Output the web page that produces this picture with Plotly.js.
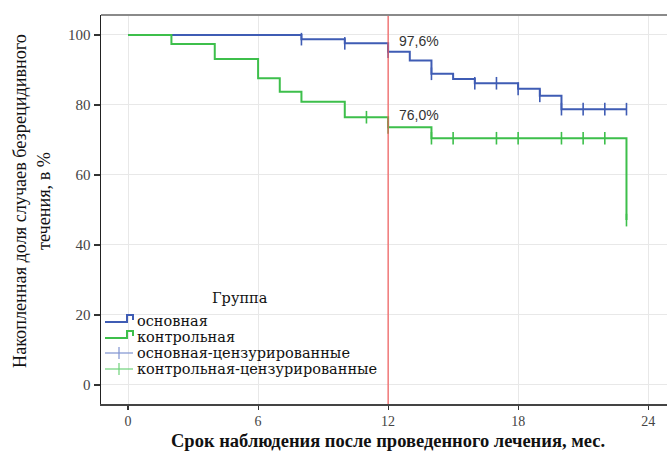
<!DOCTYPE html>
<html>
<head>
<meta charset="utf-8">
<script src="https://cdn.plot.ly/plotly-3.0.1.min.js"></script>
<style>html,body{margin:0;padding:0;background:#fff;}#chart{width:667px;height:452px;}</style>
</head>
<body>
<div id="chart"></div>
<script>
// Step curve: основная
var mainMonths = [0, 8, 10, 12, 13, 14, 15, 16, 18, 19, 20, 23];
var mainSurv   = [100, 98.8, 97.6, 95.2, 92.7, 88.9, 87.4, 86.2, 84.6, 82.6, 78.8, 78.8];
// Censored: основная
var mainCensMonths = [8, 10, 12, 14, 16, 17, 18, 19, 20, 21, 22, 23];
var mainCensSurv   = [98.8, 97.6, 95.2, 88.9, 86.2, 86.2, 84.6, 82.6, 78.8, 78.8, 78.8, 78.8];
// Step curve: контрольная
var ctrlMonths = [0, 2, 4, 6, 7, 8, 10, 12, 14, 23];
var ctrlSurv   = [100, 97.4, 93.1, 87.6, 83.8, 80.9, 76.5, 73.6, 70.5, 47.1];
// Censored: контрольная
var ctrlCensMonths = [11, 12, 14, 15, 17, 18, 20, 21, 22, 23];
var ctrlCensSurv   = [76.5, 73.6, 70.5, 70.5, 70.5, 70.5, 70.5, 70.5, 70.5, 47.1];
// Labels at 12 months
var markMonth = 12;
var markLabels = ["97,6%", "76,0%"];
var markLabelY = [98.2, 77.0];
var xTicks = [0, 6, 12, 18, 24];
var yTicks = [0, 20, 40, 60, 80, 100];
var groupNames = ["основная", "контрольная", "основная-цензурированные", "контрольная-цензурированные"];
var xTitle = 'Срок наблюдения после проведенного лечения, мес.';
var yTitle = 'Накопленная доля случаев безрецидивного<br>течения, в %';

var BLUE = '#3f5cb4', GREEN = '#3dbf4b', RED = '#f25a5a';
var W = 667, H = 452, L = 101, R = 0, T = 15, B = 48;
var pw = W - L - R, ph = H - T - B;
function px(x){ return (x - L) / pw; }
function py(y){ return (H - B - y) / ph; }

var traces = [
  {x: mainMonths, y: mainSurv, mode: 'lines', line: {shape: 'hv', color: BLUE, width: 2}, showlegend: false, hoverinfo: 'skip'},
  {x: ctrlMonths, y: ctrlSurv, mode: 'lines', line: {shape: 'hv', color: GREEN, width: 2}, showlegend: false, hoverinfo: 'skip'},
  {x: mainCensMonths, y: mainCensSurv, mode: 'markers', marker: {symbol: 'line-ns-open', size: 9, color: BLUE, line: {color: BLUE, width: 1.6}}, showlegend: false, hoverinfo: 'skip'},
  {x: ctrlCensMonths, y: ctrlCensSurv, mode: 'markers', marker: {symbol: 'line-ns-open', size: 9, color: GREEN, line: {color: GREEN, width: 1.6}}, showlegend: false, hoverinfo: 'skip'}
];

var serif = 'Liberation Serif, Times New Roman, serif';
var legFont = {family: 'DejaVu Serif, serif', size: 14.5, color: '#111'};

var annotations = [];
for (var i = 0; i < markLabels.length; i++) {
  annotations.push({x: markMonth + 0.4, y: markLabelY[i], xref: 'x', yref: 'y', text: markLabels[i], showarrow: false,
    xanchor: 'left', yanchor: 'middle', font: {family: 'Liberation Sans, Arial, sans-serif', size: 14, color: '#333'}});
}
annotations.push({x: px(240), y: py(298), xref: 'paper', yref: 'paper', text: 'Группа', showarrow: false,
  xanchor: 'center', yanchor: 'middle', font: legFont});
var legY = [321, 337, 353, 369];
for (var j = 0; j < groupNames.length; j++) {
  annotations.push({x: px(135), y: py(legY[j]), xref: 'paper', yref: 'paper', text: groupNames[j], showarrow: false,
    xanchor: 'left', yanchor: 'middle', font: legFont});
}
// axis titles
annotations.push({x: px(388), y: py(452), xref: 'paper', yref: 'paper', text: '<b>' + xTitle + '</b>', showarrow: false,
  xanchor: 'center', yanchor: 'bottom', borderpad: 0, font: {family: serif, size: 18.5, color: '#111'}});
annotations.push({x: px(32), y: py(201), xref: 'paper', yref: 'paper', text: yTitle, showarrow: false, textangle: -90,
  xanchor: 'center', yanchor: 'middle', font: {family: serif, size: 18.2, color: '#111'}});

var shapes = [
  {type: 'line', xref: 'x', yref: 'paper', x0: markMonth, x1: markMonth, y0: 0, y1: 1, line: {color: RED, width: 1.2}},
  {type: 'line', xref: 'paper', yref: 'paper', x0: 0, x1: 1, y0: 1, y1: 1, line: {color: '#8a8a8a', width: 2}}
];
// legend icons
function stepIcon(y, color){
  return {type: 'path', xref: 'paper', yref: 'paper',
    path: 'M' + px(105) + ',' + py(y + 1) + ' L' + px(127) + ',' + py(y + 1) + ' L' + px(127) + ',' + py(y - 6) + ' L' + px(133) + ',' + py(y - 6) + ' L' + px(133) + ',' + py(y - 1),
    line: {color: color, width: 2}};
}
function crossIcon(y, color){
  return [
    {type: 'line', xref: 'paper', yref: 'paper', x0: px(105), x1: px(133), y0: py(y), y1: py(y), line: {color: color, width: 1.2}},
    {type: 'line', xref: 'paper', yref: 'paper', x0: px(119), x1: px(119), y0: py(y - 6), y1: py(y + 6), line: {color: color, width: 1.2}}
  ];
}
shapes.push(stepIcon(legY[0], BLUE));
shapes.push(stepIcon(legY[1], GREEN));
shapes = shapes.concat(crossIcon(legY[2], '#7f93d0'), crossIcon(legY[3], '#6fd27a'));

var layout = {
  width: W, height: H,
  margin: {l: L, r: R, t: T, b: B, pad: 0},
  paper_bgcolor: '#fff', plot_bgcolor: '#fff',
  showlegend: false,
  xaxis: {
    range: [-1.25, 24.87], tickvals: xTicks, ticktext: xTicks.map(String),
    showgrid: true, gridcolor: '#e8e8e8', gridwidth: 1, zeroline: false,
    showline: true, linecolor: '#444', linewidth: 1.5,
    ticks: 'outside', ticklen: 4, tickcolor: '#333', tickwidth: 1.2,
    tickfont: {family: serif, size: 14, color: '#444'}
  },
  yaxis: {
    range: [-5.43, 105.7], tickvals: yTicks, ticktext: yTicks.map(String),
    showgrid: true, gridcolor: '#e8e8e8', gridwidth: 1, zeroline: false,
    showline: true, linecolor: '#222', linewidth: 1.5,
    ticks: 'outside', ticklen: 6, tickcolor: '#333', tickwidth: 1.2,
    tickfont: {family: serif, size: 15, color: '#444'}
  },
  annotations: annotations,
  shapes: shapes
};

Plotly.newPlot('chart', traces, layout, {staticPlot: true, displayModeBar: false});
</script>
</body>
</html>
